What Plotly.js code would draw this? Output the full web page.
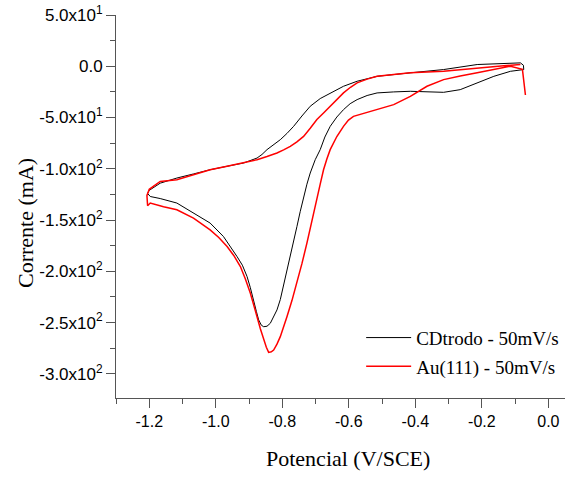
<!DOCTYPE html>
<html>
<head>
<meta charset="utf-8">
<script src="https://cdn.plot.ly/plotly-3.0.1.min.js"></script>
<style>html,body{margin:0;padding:0;background:#fff;}#chart{width:572px;height:481px;}</style>
</head>
<body>
<div id="chart"></div>
<script>
// CDtrodo - 50mV/s (black) : potential (V/SCE) and current (mA)
const cdtrodoX = [-0.074,-0.114,-0.164,-0.214,-0.265,-0.315,-0.365,-0.415,-0.465,-0.515,-0.545,-0.575,-0.596,-0.616,-0.636,-0.656,-0.672,-0.686,-0.701,-0.716,-0.726,-0.736,-0.746,-0.756,-0.766,-0.776,-0.786,-0.796,-0.806,-0.816,-0.826,-0.836,-0.846,-0.856,-0.863,-0.871,-0.878,-0.886,-0.896,-0.906,-0.920,-0.936,-0.956,-0.977,-1.017,-1.067,-1.117,-1.167,-1.197,-1.205,
  -1.200,-1.167,-1.117,-1.067,-1.017,-0.966,-0.916,-0.876,-0.861,-0.846,-0.826,-0.806,-0.786,-0.766,-0.741,-0.716,-0.686,-0.656,-0.616,-0.575,-0.515,-0.415,-0.315,-0.214,-0.134,-0.084,-0.075,-0.074];
const cdtrodoY = [-3.2,-4.9,-9.8,-16.2,-22.8,-25.4,-25.0,-24.4,-25.0,-26.0,-28.5,-32.5,-36.5,-42.3,-49.5,-58.6,-69.0,-81.3,-91.1,-104.1,-115.0,-127.0,-141.5,-156.3,-171.0,-185.6,-200.5,-214.9,-227.5,-237.6,-245.0,-250.6,-253.5,-254.0,-252.5,-247.4,-239.0,-227.8,-216.0,-205.0,-194.0,-185.6,-175.5,-166.0,-152.9,-143.2,-133.4,-129.0,-127.0,-124.0,
  -121.0,-114.0,-109.0,-105.0,-100.9,-97.5,-94.3,-89.5,-86.0,-81.3,-76.5,-71.6,-65.5,-58.6,-48.5,-39.0,-31.5,-26.0,-19.5,-14.6,-9.8,-6.4,-3.2,1.7,3.0,3.3,1.0,-3.2];

// Au(111) - 50mV/s (red)
const auX = [-0.069,-0.078,-0.114,-0.164,-0.214,-0.265,-0.315,-0.365,-0.415,-0.465,-0.515,-0.556,-0.586,-0.601,-0.616,-0.636,-0.656,-0.666,-0.676,-0.686,-0.696,-0.711,-0.726,-0.741,-0.756,-0.771,-0.786,-0.796,-0.806,-0.816,-0.826,-0.833,-0.841,-0.848,-0.856,-0.866,-0.876,-0.886,-0.896,-0.911,-0.926,-0.946,-0.966,-0.991,-1.017,-1.067,-1.117,-1.157,-1.197,-1.205,
  -1.207,-1.200,-1.167,-1.117,-1.067,-1.017,-0.966,-0.916,-0.876,-0.846,-0.816,-0.796,-0.776,-0.756,-0.736,-0.716,-0.696,-0.676,-0.656,-0.636,-0.616,-0.595,-0.575,-0.545,-0.515,-0.465,-0.415,-0.315,-0.214,-0.134,-0.084];
const auY = [-28.0,-3.0,0.0,-3.5,-6.4,-9.5,-13.0,-19.5,-29.3,-37.4,-42.3,-46.0,-48.8,-52.5,-58.6,-68.5,-81.3,-90.5,-100.9,-115.0,-130.2,-151.5,-172.5,-192.5,-211.5,-228.5,-244.2,-254.5,-263.7,-271.0,-276.7,-278.5,-279.0,-274.0,-266.9,-256.0,-244.2,-232.5,-221.3,-207.5,-195.3,-184.5,-175.8,-167.0,-159.5,-148.0,-140.0,-137.0,-133.4,-136.0,
  -126.0,-120.0,-112.3,-110.6,-106.0,-100.9,-97.5,-94.3,-91.1,-88.0,-84.6,-81.5,-78.1,-73.8,-68.4,-60.5,-52.0,-45.5,-39.0,-32.5,-26.0,-20.5,-16.2,-12.5,-9.8,-8.0,-6.4,-4.9,-1.6,0.5,1.7];

const seriesNames = ['CDtrodo - 50mV/s', 'Au(111) - 50mV/s'];
const xTitle = 'Potencial (V/SCE)';
const yTitle = 'Corrente (mA)';
const xTickVals = [-1.2,-1.0,-0.8,-0.6,-0.4,-0.2,0.0];
const xTickText = ['-1.2','-1.0','-0.8','-0.6','-0.4','-0.2','0.0'];
const yTickVals = [50,0,-50,-100,-150,-200,-250,-300];
const yTickText = ['5.0x10<sup>1</sup>','0.0','-5.0x10<sup>1</sup>','-1.0x10<sup>2</sup>','-1.5x10<sup>2</sup>','-2.0x10<sup>2</sup>','-2.5x10<sup>2</sup>','-3.0x10<sup>2</sup>'];

const traces = [
  {x: cdtrodoX, y: cdtrodoY, mode: 'lines', name: seriesNames[0], legendgroup: 'a',
   line: {color: '#000000', width: 1}},
  {x: auX, y: auY, mode: 'lines', name: seriesNames[1], legendgroup: 'b',
   line: {color: '#ff0000', width: 1.5}}
];

const axisColor = '#555555';
const serif = 'Liberation Serif, Times New Roman, serif';
const sans = 'Liberation Sans, Arial, sans-serif';
const layout = {
  width: 572, height: 481,
  margin: {l: 116, r: 7, t: 15, b: 83},
  paper_bgcolor: '#ffffff', plot_bgcolor: '#ffffff',
  showlegend: true,
  legend: {x: 0.546, y: 0.207, xanchor: 'left', yanchor: 'top', bgcolor: 'rgba(0,0,0,0)',
           font: {family: serif, size: 19, color: '#000'}, itemwidth: 45,
           traceorder: 'grouped', tracegroupgap: 1},
  xaxis: {
    range: [-1.3, 0.05], showgrid: false, zeroline: false,
    showline: true, linecolor: axisColor, linewidth: 1, mirror: false,
    ticks: 'outside', ticklen: 9, tickcolor: axisColor, tickwidth: 1,
    tickvals: xTickVals, ticktext: xTickText,
    tickfont: {family: sans, size: 16, color: '#000'},
    minor: {dtick: 0.1, ticks: 'outside', ticklen: 5, tickcolor: axisColor, showgrid: false}
  },
  yaxis: {
    range: [-323.5, 50], showgrid: false, zeroline: false,
    showline: true, linecolor: axisColor, linewidth: 1, mirror: false,
    ticks: 'outside', ticklen: 9, tickcolor: axisColor, tickwidth: 1,
    tickvals: yTickVals, ticktext: yTickText,
    tickfont: {family: sans, size: 17, color: '#000'},
    minor: {dtick: 25, ticks: 'outside', ticklen: 5, tickcolor: axisColor, showgrid: false}
  },
  annotations: [
    {text: xTitle, xref: 'paper', yref: 'paper', x: 0.5167, y: -0.159, xanchor: 'center', yanchor: 'middle',
     showarrow: false, font: {family: serif, size: 22, color: '#000'}},
    {text: yTitle, xref: 'paper', yref: 'paper', x: -0.2004, y: 0.457, xanchor: 'center', yanchor: 'middle',
     textangle: -90, showarrow: false, font: {family: serif, size: 22, color: '#000'}}
  ]
};

Plotly.newPlot('chart', traces, layout, {staticPlot: true, displayModeBar: false});
</script>
</body>
</html>
